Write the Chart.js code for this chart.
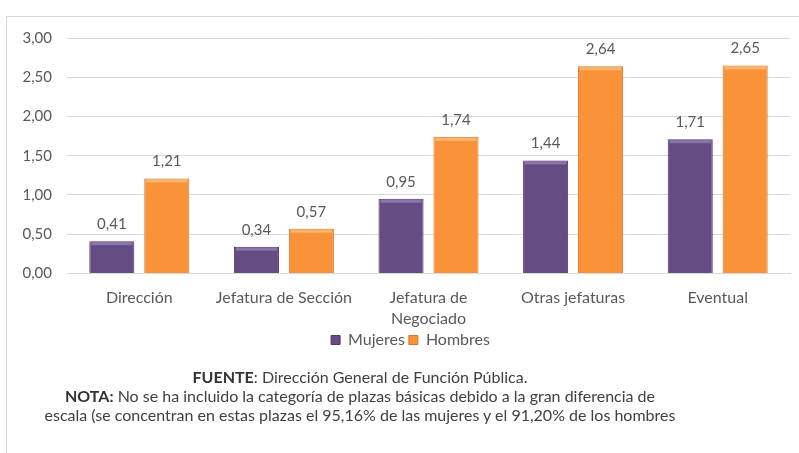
<!DOCTYPE html>
<html>
<head>
<meta charset="utf-8">
<script src="https://cdn.jsdelivr.net/npm/chart.js@4.4.1/dist/chart.umd.min.js"></script>
<style>
  html, body { margin: 0; padding: 0; background: #fff; }
  #wrap { position: relative; width: 799px; height: 453px; overflow: hidden; }
  #frame { position: absolute; left: 6px; top: 16px; width: 820px; height: 460px;
           border-left: 1px solid #d9d9d9; border-top: 1px solid #d9d9d9; }
  #chartBox { position: absolute; left: 0; top: 0; width: 799px; height: 373px; }
  #notes { position: absolute; left: 0; width: 720px; top: 367px; text-align: center;
           font-family: Lato, sans-serif; font-size: 16px; line-height: 19px; color: #404040; }
  #notes b { color: #333; }
</style>
</head>
<body>
<div id="wrap">
  <div id="frame"></div>
  <div id="chartBox"><canvas id="plazas-chart"></canvas></div>
  <div id="notes">
    <div><b>FUENTE</b>: Dirección General de Función Pública.</div>
    <div><b>NOTA:</b> No se ha incluido la categoría de plazas básicas debido a la gran diferencia de</div>
    <div>escala (se concentran en estas plazas el 95,16% de las mujeres y el 91,20% de los hombres</div>
  </div>
</div>
<script>
var categorias = ['Dirección', 'Jefatura de Sección', ['Jefatura de', 'Negociado'], 'Otras jefaturas', 'Eventual'];
var mujeres = [0.41, 0.34, 0.95, 1.44, 1.71];
var hombres = [1.21, 0.57, 1.74, 2.64, 2.65];
var yTicks = [0, 0.5, 1, 1.5, 2, 2.5, 3];

function coma(v) {
    return v.toFixed(2).replace('.', ',');
}

var brillo = ['#8b74a9', '#fcb56c'];

// bisel claro arriba de cada barra + etiquetas de valor
var valueLabels = {
    id: 'valueLabels',
    afterDatasetsDraw: function(chart) {
        var ctx = chart.ctx;
        ctx.save();
        chart.data.datasets.forEach(function(ds, i) {
            chart.getDatasetMeta(i).data.forEach(function(bar) {
                ctx.fillStyle = brillo[i];
                ctx.fillRect(bar.x - bar.width / 2 + 2, bar.y + 1, bar.width - 4, 3);
            });
        });
        ctx.font = '15px Lato, sans-serif';
        ctx.fillStyle = '#595959';
        ctx.textAlign = 'center';
        ctx.textBaseline = 'middle';
        chart.data.datasets.forEach(function(ds, i) {
            chart.getDatasetMeta(i).data.forEach(function(bar, j) {
                ctx.fillText(coma(ds.data[j]), bar.x, bar.y - 17);
            });
        });
        ctx.restore();
    }
};

// la leyenda del original queda algo a la derecha y más pegada al eje
var legendShift = {
    id: 'legendShift',
    afterLayout: function(chart) {
        chart.legend.left += 12;
        chart.legend.right += 12;
        chart.legend.top -= 15;
        chart.legend.bottom -= 15;
    }
};

var ctx = document.getElementById('plazas-chart').getContext('2d');

var myBarChart = new Chart(ctx, {
    type: 'bar',
    data: {
        labels: categorias,
        datasets: [{
            label: 'Mujeres',
            data: mujeres,
            backgroundColor: '#644c84',
            borderColor: '#4b3865',
            borderWidth: 1
        }, {
            label: 'Hombres',
            data: hombres,
            backgroundColor: '#f99238',
            borderColor: '#d8762a',
            borderWidth: 1
        }]
    },
    options: {
        responsive: true,
        maintainAspectRatio: false,
        animation: false,
        categoryPercentage: 0.76,
        barPercentage: 0.82,
        layout: { padding: { left: 7, right: 9, top: 38, bottom: 0 } },
        scales: {
            x: {
                grid: { display: false, drawTicks: false },
                border: { color: '#d9d9d9' },
                ticks: {
                    color: '#595959',
                    font: { family: 'Lato, sans-serif', size: 16, lineHeight: 1.3 },
                    autoSkip: false,
                    maxRotation: 0,
                    padding: 14
                }
            },
            y: {
                min: 0,
                max: 3,
                afterFit: function(scale) { scale.width = 60; },
                afterBuildTicks: function(scale) {
                    scale.ticks = yTicks.map(function(v) { return { value: v }; });
                },
                grid: { color: '#d9d9d9', drawTicks: false },
                border: { display: false },
                ticks: {
                    color: '#595959',
                    font: { family: 'Lato, sans-serif', size: 15 },
                    padding: 15,
                    callback: function(v) { return coma(v); }
                }
            }
        },
        plugins: {
            legend: {
                position: 'bottom',
                labels: {
                    color: '#595959',
                    font: { family: 'Lato, sans-serif', size: 16 },
                    boxWidth: 9,
                    boxHeight: 9,
                    padding: 4
                }
            },
            tooltip: { enabled: false }
        }
    },
    plugins: [valueLabels, legendShift]
});
</script>
</body>
</html>
